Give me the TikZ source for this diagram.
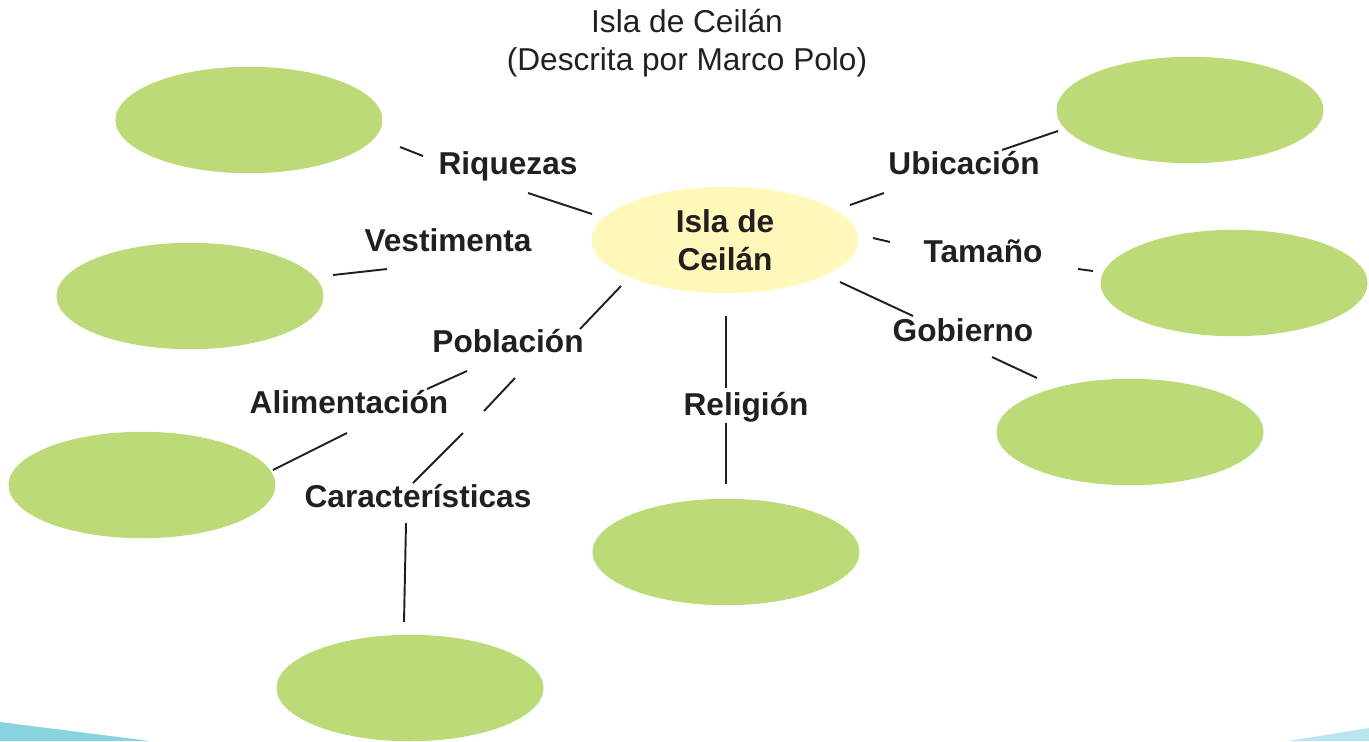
\documentclass[tikz,border=0pt]{standalone}
\usepackage{fontspec}
\setmainfont{Liberation Sans}
\usetikzlibrary{shapes.geometric}
\definecolor{leaf}{HTML}{BDDA78}
\definecolor{cream}{HTML}{FFF8BA}
\definecolor{ink}{HTML}{231F20}
\definecolor{seaL}{HTML}{88D4E1}
\definecolor{seaR}{HTML}{B8E5EF}

\begin{document}
\begin{tikzpicture}[x=0.02cm, y=-0.02cm,
  blob/.style={ellipse, fill=#1, inner sep=0pt, minimum width=5.34cm,
               minimum height=2.13cm},
  topic/.style={anchor=base, text=ink, font=\fontsize{18}{21.5}\selectfont\bfseries},
  link/.style={ink, line width=1.1pt}]

  \useasboundingbox (0,0) rectangle (1369,741);

  % bottom band
  \fill[seaL] (0,722) -- (150,741) -- (0,741) -- cycle;
  \fill[seaR] (1369,728) -- (1288,741) -- (1369,741) -- cycle;

  \node[text=ink, align=center, font=\fontsize{18}{21.5}\selectfont] (title) at (687,43)
       {Isla de Ceilán\\(Descrita por Marco Polo)};

  % centre
  \node[blob=cream, text=ink, align=center, font=\fontsize{18}{21.5}\selectfont\bfseries]
       (isla) at (725,240) {Isla de\\Ceilán};

  % empty answer ovals
  \node[blob=leaf] (riq) at (249,120) {};
  \node[blob=leaf] (ves) at (190,296) {};
  \node[blob=leaf] (ali) at (142,485) {};
  \node[blob=leaf] (car) at (410,688) {};
  \node[blob=leaf] (rel) at (726,552) {};
  \node[blob=leaf] (gob) at (1130,432) {};
  \node[blob=leaf] (tam) at (1234,283) {};
  \node[blob=leaf] (ubi) at (1190,110) {};

  % topics
  \node[topic] (tRiq) at (508,174) {Riquezas};
  \node[topic] (tVes) at (448,251) {Vestimenta};
  \node[topic] (tPob) at (508,352) {Población};
  \node[topic] (tAli) at (349,413) {Alimentación};
  \node[topic] (tCar) at (418,507) {Características};
  \node[topic] (tRel) at (746,415) {Religión};
  \node[topic] (tUbi) at (964,174) {Ubicación};
  \node[topic] (tTam) at (983,262) {Tamaño};
  \node[topic] (tGob) at (963,341) {Gobierno};

  % line ends
  \foreach \n/\x/\y in {riqA/400/147, riqB/423/156, riqC/528/193, riqD/592/214,
                        vesA/333/275, vesB/387/269,
                        pobA/621/286, pobB/580/329,
                        aliA/467/371, aliB/427/389, aliC/347/433, aliD/273/470,
                        carA/515/378, carB/484/411, carC/463/433, carD/413/483,
                        carE/406/523, carF/404/622,
                        relA/726/316, relB/726/388, relC/726/423, relD/726/484,
                        ubiA/1058/131, ubiB/1002/150, ubiC/884/193, ubiD/850/205,
                        tamA/873/238, tamB/890/242, tamC/1078/269, tamD/1093/271,
                        gobA/840/282, gobB/913/316, gobC/992/357, gobD/1037/378}
    \coordinate (\n) at (\x,\y);

  \draw[link] (riqA) -- (riqB);
  \draw[link] (riqC) -- (riqD);
  \draw[link] (vesA) -- (vesB);
  \draw[link] (pobA) -- (pobB);
  \draw[link] (aliA) -- (aliB);
  \draw[link] (aliC) -- (aliD);
  \draw[link] (carA) -- (carB);
  \draw[link] (carC) -- (carD);
  \draw[link] (carE) -- (carF);
  \draw[link] (relA) -- (relB);
  \draw[link] (relC) -- (relD);
  \draw[link] (ubiA) -- (ubiB);
  \draw[link] (ubiC) -- (ubiD);
  \draw[link] (tamA) -- (tamB);
  \draw[link] (tamC) -- (tamD);
  \draw[link] (gobA) -- (gobB);
  \draw[link] (gobC) -- (gobD);
\end{tikzpicture}
\end{document}
